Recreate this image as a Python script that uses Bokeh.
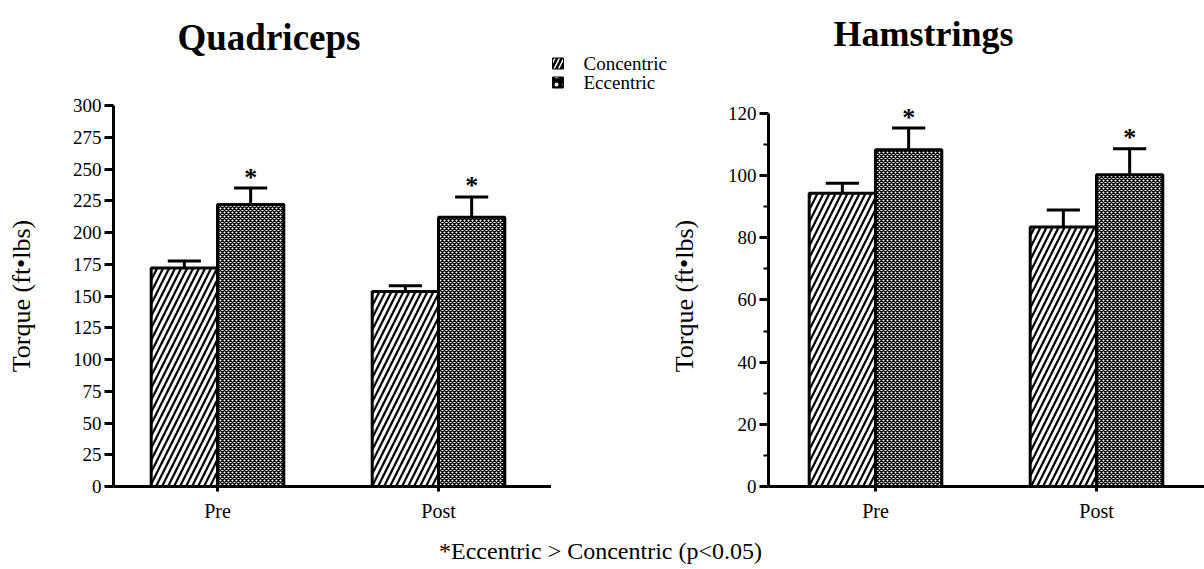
from bokeh.plotting import figure
from bokeh.layouts import row, column
from bokeh.models import FixedTicker, Range1d, Label
from bokeh.core.properties import value
from bokeh.embed import file_html
from bokeh.resources import INLINE

# ---------------- data ----------------
categories = ["Pre", "Post"]
cat_pos = [1, 2]

quad_con = [172, 153.5]
quad_con_err = [5.5, 4.5]
quad_ecc = [222, 212]
quad_ecc_err = [13, 16]

ham_con = [94.3, 83.5]
ham_con_err = [3.2, 5.4]
ham_ecc = [108.3, 100.3]
ham_ecc_err = [7, 8.3]

quad_ticks = [0, 25, 50, 75, 100, 125, 150, 175, 200, 225, 250, 275, 300]
ham_ticks = [0, 20, 40, 60, 80, 100, 120]
ham_minor = [10, 30, 50, 70, 90, 110]

series_names = ["Concentric", "Eccentric"]
titles = ["Quadriceps", "Hamstrings"]
y_label = "Torque (ft\u2022lbs)"
footnote = "*Eccentric > Concentric (p<0.05)"

FONT = "Liberation Serif"
BW = 0.3
CON_STYLE = dict(fill_color="white", line_color="black", line_width=3,
                 hatch_pattern="/", hatch_scale=12, hatch_weight=2.2, hatch_color="black")
ECC_STYLE = dict(fill_color="white", line_color="black", line_width=3,
                 hatch_pattern="x", hatch_scale=4, hatch_weight=1.4, hatch_color="black")


def bare(width, height, xr, yr):
    f = figure(width=width, height=height, x_range=Range1d(*xr), y_range=Range1d(*yr),
               output_backend="svg", toolbar_location=None, min_border=0)
    f.axis.visible = False
    f.grid.visible = False
    f.outline_line_color = None
    return f


def make_panel(width, height, xr, yr, borders, con, con_err, ecc, ecc_err,
               ticks, minor, bounds, label_standoff):
    left, right, top, bottom = borders
    p = figure(width=width, height=height, x_range=Range1d(*xr), y_range=Range1d(*yr),
               output_backend="svg", toolbar_location=None,
               min_border=0, min_border_left=left, min_border_right=right,
               min_border_top=top, min_border_bottom=bottom)
    p.xgrid.visible = False
    p.ygrid.visible = False
    p.outline_line_color = None

    x_con = [c - BW / 2 for c in cat_pos]
    x_ecc = [c + BW / 2 for c in cat_pos]
    p.vbar(x=x_con, top=con, bottom=0, width=BW, **CON_STYLE)
    p.vbar(x=x_ecc, top=ecc, bottom=0, width=BW, **ECC_STYLE)

    cap_con = [v + e for v, e in zip(con, con_err)]
    cap_ecc = [v + e for v, e in zip(ecc, ecc_err)]
    for xs, vals, caps in ((x_con, con, cap_con), (x_ecc, ecc, cap_ecc)):
        p.segment(x0=xs, y0=vals, x1=xs, y1=caps, line_color="black", line_width=3)
        p.segment(x0=[x - 0.075 for x in xs], y0=caps, x1=[x + 0.075 for x in xs], y1=caps,
                  line_color="black", line_width=3)
    p.text(x=x_ecc, y=cap_ecc, text=["*", "*"], text_font=value(FONT),
           text_font_style="bold", text_font_size="26px", text_align="center",
           text_baseline="alphabetic", text_color="black", y_offset=-11)

    ya = p.yaxis[0]
    ya.ticker = FixedTicker(ticks=ticks, minor_ticks=minor)
    ya.bounds = bounds
    ya.axis_line_width = 3
    ya.major_tick_line_width = 3
    ya.minor_tick_line_width = 2
    ya.major_tick_out = 9
    ya.major_tick_in = 0
    ya.minor_tick_out = 5 if minor else 0
    ya.minor_tick_in = 0
    ya.major_label_text_font = FONT
    ya.major_label_text_font_size = "19px"
    ya.major_label_text_color = "black"
    ya.major_label_standoff = 3
    ya.axis_label = y_label
    ya.axis_label_text_font = FONT
    ya.axis_label_text_font_size = "26px"
    ya.axis_label_text_font_style = "normal"
    ya.axis_label_text_color = "black"
    ya.axis_label_standoff = label_standoff

    xa = p.xaxis[0]
    xa.ticker = FixedTicker(ticks=cat_pos)
    xa.major_label_overrides = {c: n for c, n in zip(cat_pos, categories)}
    xa.axis_line_width = 3
    xa.major_tick_line_width = 3
    xa.major_tick_out = 5
    xa.major_tick_in = 0
    xa.minor_tick_out = 0
    xa.minor_tick_in = 0
    xa.major_label_text_font = FONT
    xa.major_label_text_font_size = "20px"
    xa.major_label_text_color = "black"
    xa.major_label_standoff = 8
    return p


# header strip: titles + legend (pixel coordinates, y up)
HDR_H = 94
hdr = bare(1204, HDR_H, (0, 1204), (0, HDR_H))
hdr.add_layout(Label(x=177, y=57, text=titles[0], text_font=FONT, text_font_size="37px",
                     text_font_style="bold", text_color="black", text_baseline="alphabetic"))
hdr.add_layout(Label(x=833, y=61, text=titles[1], text_font=FONT, text_font_size="36px",
                     text_font_style="bold", text_color="black", text_baseline="alphabetic"))
key_y = [31, 12]
hdr.rect(x=[557.5], y=[key_y[0]], width=11, height=11, fill_color="black", line_color="black",
         hatch_pattern="/", hatch_scale=9, hatch_weight=1.5, hatch_color="white")
hdr.rect(x=[557.5], y=[key_y[1]], width=11, height=11, fill_color="black", line_color="black",
         hatch_pattern=".", hatch_scale=8, hatch_weight=2, hatch_color="white")
hdr.text(x=[583, 583], y=key_y, text=series_names, text_font=value(FONT),
         text_font_size="19px", text_baseline="middle", text_align="left", text_color="black")

# panels
pq = make_panel(551, 435, (0.5294, 2.5113), (0, 300), (113, 0, 11, 43),
                quad_con, quad_con_err, quad_ecc, quad_ecc_err,
                quad_ticks, [], (0, 300), 34)
ph = make_panel(653, 435, (0.51584, 2.4887), (0, 122.54), (217, 0, 10, 39),
                ham_con, ham_con_err, ham_ecc, ham_ecc_err,
                ham_ticks, ham_minor, (0, 120), 26)

# footnote strip
ftr = bare(1204, 40, (0, 1204), (0, 40))
ftr.add_layout(Label(x=600, y=19, text=footnote, text_font=FONT, text_font_size="24px",
                     text_color="black", text_align="center", text_baseline="middle"))

layout = column(hdr, row(pq, ph), ftr)
open("out.html", "w").write(file_html(layout, INLINE))
